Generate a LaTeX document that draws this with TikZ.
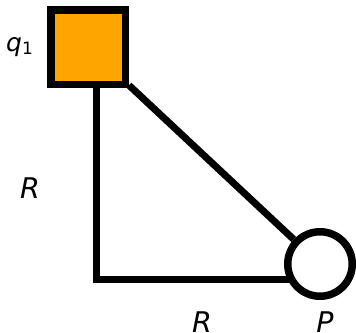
\documentclass[tikz,border=0pt]{standalone}
\usepackage{fontspec}
\setmainfont{DejaVu Sans}
\usetikzlibrary{backgrounds}
\definecolor{sqorange}{HTML}{FFA500}
\tikzset{
  sqnode/.style={draw=black, fill=sqorange, line width=7.5pt, minimum size=74.5pt, inner sep=0pt, rectangle},
  circnode/.style={draw=black, fill=white, line width=7.5pt, minimum size=64.5pt, inner sep=0pt, circle},
  edge/.style={draw=black, line width=7pt},
  lbl/.style={font=\fontsize{28.5}{28.5}\selectfont\itshape, inner sep=0pt, anchor=base},
  qlbl/.style={font=\fontsize{25}{25}\selectfont\itshape, inner sep=0pt, anchor=base west}
}
\begin{document}
\begin{tikzpicture}[x=1pt,y=-1pt]
\useasboundingbox (0,0) rectangle (356,332);
\node[sqnode] (q) at (88,47) {};
\node[circnode] (P) at (320,264) {};
\coordinate (c) at (96,279);
\begin{scope}[on background layer]
\draw[edge] (q) -- (P);
\draw[edge, line join=miter] (c |- q) -- (c) -- (c -| P);
\end{scope}
\node[qlbl] (lq) at (6,51) {q\raisebox{-3pt}{\fontsize{17}{17}\selectfont\upshape 1}};
\node[lbl] (lr1) at (30,198) {R};
\node[lbl] (lr2) at (202,332) {R};
\node[lbl] (lp) at (325,332) {P};
\end{tikzpicture}
\end{document}
